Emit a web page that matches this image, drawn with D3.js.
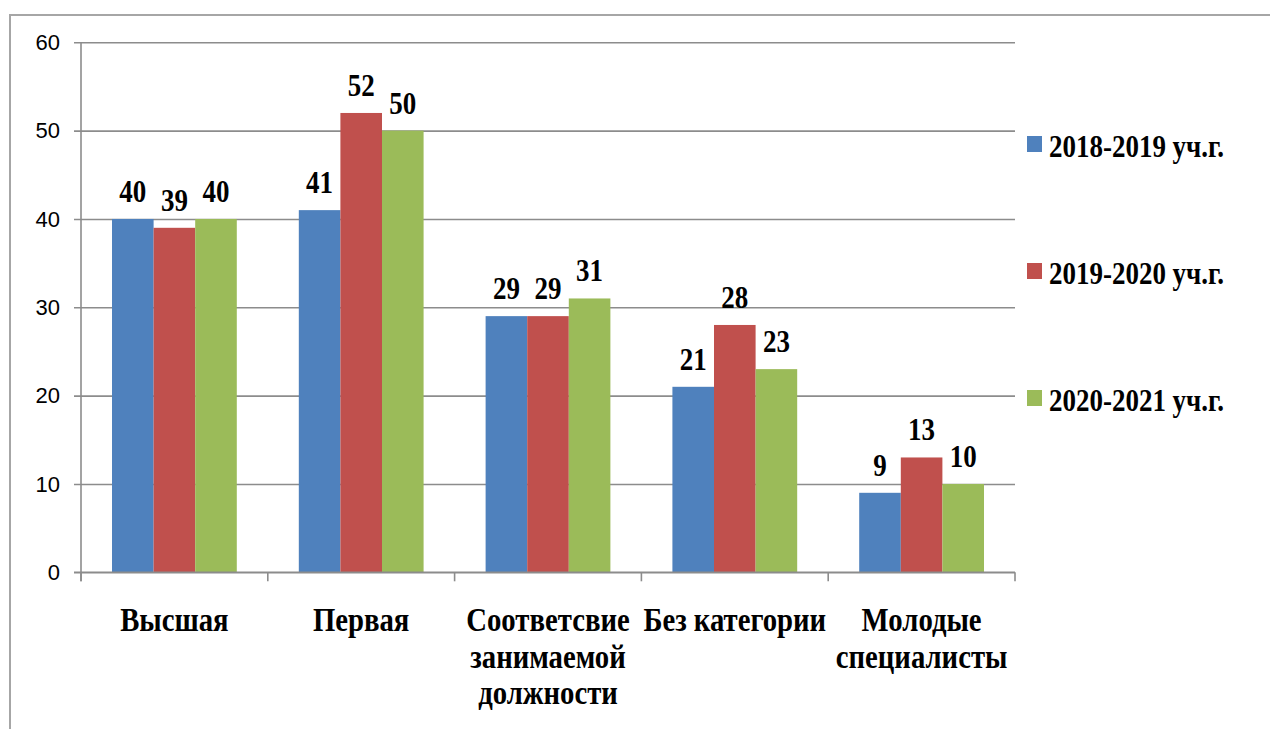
<!DOCTYPE html>
<html>
<head>
<meta charset="utf-8">
<script src="https://cdn.jsdelivr.net/npm/d3@7"></script>
<style>
  body { margin: 0; background: #fff; }
  svg { display: block; }
</style>
</head>
<body>
<div id="chart"></div>
<script>
var categories = ["Высшая", "Первая", "Соответсвие занимаемой должности", "Без категории", "Молодые специалисты"];
var seriesNames = ["2018-2019 уч.г.", "2019-2020 уч.г.", "2020-2021 уч.г."];
var values2018 = [40, 41, 29, 21, 9];
var values2019 = [39, 52, 29, 28, 13];
var values2020 = [40, 50, 31, 23, 10];
var yTicks = [0, 10, 20, 30, 40, 50, 60];

var seriesColors = ["#4F81BD", "#C0504D", "#9BBB59"];
var series = [values2018, values2019, values2020];

var W = 1270, H = 729;
var margin = { top: 42.3, right: 255, bottom: 156.7, left: 81 };
var width = W - margin.left - margin.right;
var height = H - margin.top - margin.bottom;
var squeeze = 0.87; // text in the picture is narrowed a bit
var serif = "'Liberation Serif', 'Times New Roman', serif";
var grid = "#8c8c8c";

var root = d3.select("#chart").append("svg")
  .attr("width", W)
  .attr("height", H);

// outer frame, cut by the page edges
root.append("path")
  .attr("d", "M10," + H + "V15H" + W)
  .attr("fill", "none")
  .attr("stroke", "#a6a6a6")
  .attr("stroke-width", 2);

var svg = root.append("g")
  .attr("transform", "translate(" + margin.left + "," + margin.top + ")");

var x0 = d3.scaleBand()
  .domain(categories)
  .range([0, width]);

var x1 = d3.scaleBand()
  .domain(d3.range(series.length))
  .range([x0.bandwidth() * 0.166, x0.bandwidth() * 0.834]);

var y = d3.scaleLinear()
  .domain([0, 60])
  .range([height, 0]);

function narrow(sel) {
  sel.each(function () {
    var w = this.getComputedTextLength();
    d3.select(this)
      .attr("textLength", w * squeeze)
      .attr("lengthAdjust", "spacingAndGlyphs");
  });
}

// gridlines + y axis
var yAxis = svg.append("g")
  .attr("class", "y-axis")
  .call(d3.axisLeft(y).tickValues(yTicks).tickSize(-width).tickSizeOuter(0).tickPadding(21));
yAxis.select(".domain").remove();
yAxis.selectAll(".tick line")
  .attr("x1", -7)
  .attr("stroke", grid)
  .attr("stroke-width", 1.6);
yAxis.selectAll(".tick text")
  .attr("font-family", "'Liberation Sans', Arial, sans-serif")
  .attr("font-size", 22)
  .attr("fill", "#000");

svg.append("line")
  .attr("x1", 0).attr("x2", 0)
  .attr("y1", 0).attr("y2", height + 9)
  .attr("stroke", grid)
  .attr("stroke-width", 1.6);

// x axis ticks at the band edges
var edges = categories.map(function (c) { return x0(c); }).concat([width]);
svg.append("g")
  .attr("class", "x-ticks")
  .selectAll("line")
  .data(edges)
  .join("line")
  .attr("x1", function (d) { return d; })
  .attr("x2", function (d) { return d; })
  .attr("y1", height)
  .attr("y2", height + 9)
  .attr("stroke", grid)
  .attr("stroke-width", 1.6);

// bars
var groups = svg.append("g")
  .attr("class", "bars")
  .selectAll("g")
  .data(categories)
  .join("g")
  .attr("transform", function (c) { return "translate(" + x0(c) + ",0)"; });

groups.selectAll("rect")
  .data(function (c, i) { return series.map(function (s, k) { return { k: k, v: s[i] }; }); })
  .join("rect")
  .attr("x", function (d) { return x1(d.k); })
  .attr("width", x1.bandwidth())
  .attr("y", function (d) { return y(d.v); })
  .attr("height", function (d) { return height - y(d.v); })
  .attr("fill", function (d) { return seriesColors[d.k]; });

svg.append("line")
  .attr("x1", -7).attr("x2", width)
  .attr("y1", height).attr("y2", height)
  .attr("stroke", grid)
  .attr("stroke-width", 1.6);

// value labels
groups.selectAll("text.value")
  .data(function (c, i) { return series.map(function (s, k) { return { k: k, v: s[i] }; }); })
  .join("text")
  .attr("class", "value")
  .attr("x", function (d) { return x1(d.k) + x1.bandwidth() / 2; })
  .attr("y", function (d) { return y(d.v) - 17; })
  .attr("text-anchor", "middle")
  .attr("font-family", serif)
  .attr("font-weight", "bold")
  .attr("font-size", 31)
  .text(function (d) { return d.v; })
  .call(narrow);

// category labels, wrapped to the band width
var maxLine = x0.bandwidth();
var labels = svg.append("g").attr("class", "x-labels");
categories.forEach(function (c) {
  var words = c.split(" ");
  var lines = [];
  var cur = "";
  var probe = labels.append("text")
    .attr("font-family", serif)
    .attr("font-weight", "bold")
    .attr("font-size", 33);
  words.forEach(function (w) {
    var test = cur ? cur + " " + w : w;
    probe.text(test);
    if (cur && probe.node().getComputedTextLength() * squeeze > maxLine) {
      lines.push(cur);
      cur = w;
    } else {
      cur = test;
    }
  });
  lines.push(cur);
  probe.remove();

  lines.forEach(function (line, i) {
    labels.append("text")
      .attr("x", x0(c) + x0.bandwidth() / 2)
      .attr("y", height + 59 + i * 36.5)
      .attr("text-anchor", "middle")
      .attr("font-family", serif)
      .attr("font-weight", "bold")
      .attr("font-size", 33)
      .text(line)
      .call(narrow);
  });
});

// legend
var legend = root.append("g")
  .attr("class", "legend")
  .attr("transform", "translate(1027,136)");

var item = legend.selectAll("g")
  .data(seriesNames)
  .join("g")
  .attr("transform", function (d, i) { return "translate(0," + i * 127 + ")"; });

item.append("rect")
  .attr("width", 15)
  .attr("height", 16)
  .attr("fill", function (d, i) { return seriesColors[i]; });

item.append("text")
  .attr("x", 22)
  .attr("y", 20.5)
  .attr("font-family", serif)
  .attr("font-weight", "bold")
  .attr("font-size", 31)
  .text(function (d) { return d; })
  .call(narrow);
</script>
</body>
</html>
